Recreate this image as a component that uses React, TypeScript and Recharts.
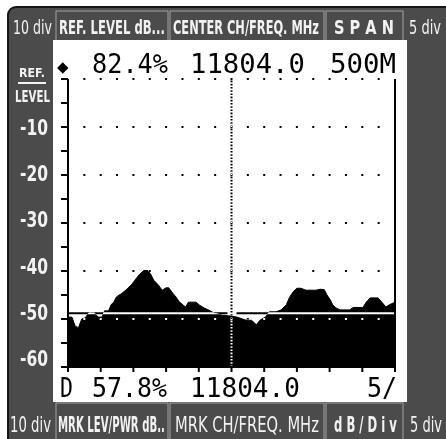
import React, { useLayoutEffect, useRef, useState } from "react";
import {
  ComposedChart,
  Area,
  XAxis,
  YAxis,
  ReferenceLine,
  CartesianGrid,
} from "recharts";

// spectrum trace
const freqMHz = [
  11554, 11560, 11565, 11570, 11575, 11580, 11586, 11594, 11600, 11606,
  11610, 11616, 11620, 11624, 11628, 11636, 11644, 11652, 11658, 11664,
  11670, 11676, 11681, 11685, 11692, 11698, 11704, 11708, 11714, 11719,
  11724, 11730, 11734, 11738, 11750, 11755, 11762, 11770, 11778, 11790,
  11803, 11812, 11825, 11835, 11842, 11848, 11856, 11862, 11872, 11880,
  11888, 11893, 11898, 11904, 11910, 11918, 11933, 11940, 11946, 11950,
  11955, 11959, 11964, 11970, 11985, 11990, 12005, 12010, 12016, 12028,
  12034, 12040, 12046, 12054,
];
const levelDb = [
  -49.6, -49.6, -51.5, -51.8, -50.0, -49.8, -48.7, -48.7, -49.6, -49.6,
  -48.3, -48.3, -47.0, -46.5, -45.4, -44.7, -43.8, -42.7, -41.6, -40.6,
  -39.9, -39.9, -40.8, -41.9, -42.9, -44.0, -43.5, -43.5, -44.6, -45.4,
  -46.4, -47.1, -47.5, -46.5, -46.5, -47.1, -47.7, -48.2, -48.8, -49.2,
  -49.4, -49.6, -50.2, -50.3, -51.2, -50.2, -49.6, -48.5, -48.5, -48.1,
  -47.0, -45.4, -44.4, -43.6, -43.6, -44.0, -44.0, -43.8, -43.9, -45.0,
  -46.0, -47.1, -47.7, -48.1, -48.1, -47.6, -47.6, -46.5, -45.6, -45.6,
  -46.5, -47.5, -47.0, -46.5,
];
const markerDb = -48.8;
const centerMHz = 11804;

const freqTicks = [11554, 11604, 11654, 11704, 11754, 11804, 11854, 11904, 11954, 12004, 12054];
const leftTicks = [0, -5, -10, -15, -20, -25, -30, -35, -40, -45, -50, -55, -60];
const rightTicks = [0, -2.5, -5, -7.5, -10, -12.5, -15, -17.5, -20, -22.5, -25, -27.5, -30];
const gridDb = [0, -10, -20, -30, -40, -50];

const headerLabels = ["10 div", "REF. LEVEL dB...", "CENTER CH/FREQ. MHz", "S P A N", "5 div"];
const footerLabels = ["10 div", "MRK LEV/PWR dB..", "MRK CH/FREQ. MHz", "d B / D i v", "5 div"];
const topReadout = ["82.4%", "11804.0", "500M"];
const bottomReadout = ["D", "57.8%", "11804.0", "5/"];

const data = freqMHz.map((f, i) => ({ f, db: levelDb[i] }));

const W = 446;
const H = 439;
const GRAY = "#4b4b4b";
const EDGE = "#a3a3a3";
const LIGHT = "#f2f2f2";
const NARROW = "'Liberation Sans Narrow', 'DejaVu Sans Condensed', sans-serif";
const MONO = "'DejaVu Sans Mono', monospace";

const xor: React.CSSProperties = { mixBlendMode: "difference" };

// text squeezed (or stretched) to a given width
const FitText = (p: {
  x: number;
  y: number;
  w: number;
  size: number;
  fill?: string;
  family?: string;
  weight?: string | number;
  children: string;
}) => {
  const ref = useRef<SVGTextElement>(null);
  const [s, setS] = useState(1);
  useLayoutEffect(() => {
    if (ref.current) {
      const n = ref.current.getComputedTextLength();
      if (n > 0) setS(p.w / n);
    }
  }, [p.w, p.children, p.size]);
  return (
    <text
      ref={ref}
      transform={`translate(${p.x},${p.y}) scale(${s},1)`}
      fontSize={p.size}
      fill={p.fill ?? LIGHT}
      fontFamily={p.family ?? NARROW}
      fontWeight={p.weight ?? "bold"}
    >
      {p.children}
    </text>
  );
};

const DotRow = (p: any) => (
  <line
    x1={p.x1 + 15.35}
    y1={p.y1}
    x2={p.x2 - 3}
    y2={p.y2}
    stroke="#fff"
    strokeWidth={2}
    strokeDasharray="2 14.35"
    style={xor}
  />
);

const CenterLine = (p: any) => (
  <line x1={p.x1} y1={p.y1} x2={p.x2} y2={p.y2} stroke="#fff" strokeWidth={2} strokeDasharray="1.6 1.6" style={xor} />
);

const MarkerLine = (p: any) => {
  const mid = (p.x1 + p.x2) / 2;
  return (
    <g style={xor}>
      <line x1={p.x1} y1={p.y1} x2={mid - 4} y2={p.y2} stroke="#fff" strokeWidth={2} />
      <line x1={mid + 5} y1={p.y1} x2={p.x2} y2={p.y2} stroke="#fff" strokeWidth={2} />
    </g>
  );
};

const RefLevel = ({ cx }: { cx: number }) => (
  <g>
    <FitText x={cx - 13} y={77} w={26} size={13}>REF.</FitText>
    <line x1={cx - 14} y1={83} x2={cx + 14} y2={83} stroke={LIGHT} strokeWidth={2} />
    <FitText x={cx - 17} y={102} w={35} size={15}>LEVEL</FitText>
  </g>
);

const LeftTick = (p: any) => {
  const { x, y, payload } = p;
  const v = payload.value;
  const major = v % 10 === 0;
  const drift = -(Math.abs(v) / 10 - 1) * 1.8;
  return (
    <g>
      <line x1={x - 7} y1={y} x2={x} y2={y} stroke="#000" strokeWidth={2} />
      {major && v === 0 && <RefLevel cx={32} />}
      {major && v !== 0 && (
        <FitText x={20} y={y + 8 + drift} w={28} size={21}>{String(v)}</FitText>
      )}
    </g>
  );
};

const RightTick = (p: any) => {
  const { x, y, payload } = p;
  const v = payload.value;
  const major = v % 5 === 0;
  const drift = -(Math.abs(v) / 5 - 1) * 1.8;
  return (
    <g>
      <line x1={x - 3} y1={y} x2={x + 8} y2={y} stroke="#000" strokeWidth={2} />
      {major && v === 0 && <RefLevel cx={425} />}
      {major && v !== 0 && (
        <FitText x={410} y={y + 8 + drift} w={String(v).length > 2 ? 30 : 22} size={21}>
          {String(v)}
        </FitText>
      )}
    </g>
  );
};

const cells = [
  { x: 56, w: 112 },
  { x: 170, w: 154 },
  { x: 326, w: 77 },
];

const Frame = () => (
  <svg width={W} height={H} style={{ position: "absolute", left: 0, top: 0 }}>
    <rect x={0} y={0} width={W} height={H} fill="#fff" />
    <rect x={8} y={7} width={W} height={H} rx={8} fill={GRAY} stroke="#151515" strokeWidth={2} />
    {cells.map((c) => (
      <rect key={"h" + c.x} x={c.x} y={11} width={c.w} height={32} fill={GRAY} stroke={EDGE} strokeWidth={1} />
    ))}
    {cells.map((c) => (
      <rect key={"f" + c.x} x={c.x} y={403} width={c.w} height={40} fill={GRAY} stroke={EDGE} strokeWidth={1} />
    ))}
    <rect x={53} y={40} width={354} height={362} fill="#fff" />

    <FitText x={13} y={34} w={39} size={20} weight="normal">{headerLabels[0]}</FitText>
    <FitText x={59} y={34} w={106} size={20}>{headerLabels[1]}</FitText>
    <FitText x={173} y={34} w={146} size={20}>{headerLabels[2]}</FitText>
    <FitText x={334} y={34} w={60} size={20}>{headerLabels[3]}</FitText>
    <FitText x={409} y={34} w={32} size={20} weight="normal">{headerLabels[4]}</FitText>

    <FitText x={10} y={432} w={41} size={21} weight="normal">{footerLabels[0]}</FitText>
    <FitText x={58} y={432} w={107} size={21}>{footerLabels[1]}</FitText>
    <FitText x={175} y={432} w={144} size={21} weight="normal">{footerLabels[2]}</FitText>
    <FitText x={334} y={432} w={63} size={21}>{footerLabels[3]}</FitText>
    <FitText x={410} y={432} w={32} size={21} weight="normal">{footerLabels[4]}</FitText>

    <text x={57} y={72} fontSize={15} fontFamily="'DejaVu Sans', sans-serif" fill="#000">◆</text>
    <FitText x={92} y={73} w={76} size={26} family={MONO} weight="normal" fill="#000">{topReadout[0]}</FitText>
    <FitText x={190} y={73} w={115} size={26} family={MONO} weight="normal" fill="#000">{topReadout[1]}</FitText>
    <FitText x={330} y={73} w={66} size={26} family={MONO} weight="normal" fill="#000">{topReadout[2]}</FitText>

    <FitText x={60} y={397} w={13} size={26} family={MONO} weight="normal" fill="#000">{bottomReadout[0]}</FitText>
    <FitText x={92} y={397} w={75} size={26} family={MONO} weight="normal" fill="#000">{bottomReadout[1]}</FitText>
    <FitText x={190} y={397} w={110} size={26} family={MONO} weight="normal" fill="#000">{bottomReadout[2]}</FitText>
    <FitText x={367} y={397} w={30} size={26} family={MONO} weight="normal" fill="#000">{bottomReadout[3]}</FitText>
  </svg>
);

export default function App() {
  return (
    <div style={{ position: "fixed", left: 0, top: 0, width: W, height: H, background: "#fff" }}>
      <Frame />
      <div style={{ position: "absolute", left: 0, top: 0 }}>
        <ComposedChart width={W} height={H} data={data} margin={{ top: 79, right: 0, bottom: 42, left: 8 }}>
          <CartesianGrid horizontal={false} vertical={false} fill="#fff" />
          <XAxis
            dataKey="f"
            type="number"
            domain={[11554, 12054]}
            ticks={freqTicks}
            tickFormatter={() => ""}
            tickSize={5}
            height={30}
            axisLine={{ stroke: "#000", strokeWidth: 2 }}
            tickLine={{ stroke: "#000", strokeWidth: 2 }}
          />
          <YAxis
            yAxisId="l"
            domain={[-60, 0]}
            ticks={leftTicks}
            width={60}
            tickSize={0}
            tickMargin={0}
            tickLine={false}
            tick={LeftTick}
            interval={0}
            axisLine={{ stroke: "#000", strokeWidth: 2 }}
          />
          <YAxis
            yAxisId="r"
            orientation="right"
            domain={[-30, 0]}
            ticks={rightTicks}
            width={51}
            tickSize={0}
            tickMargin={0}
            tickLine={false}
            tick={RightTick}
            interval={0}
            axisLine={{ stroke: "#000", strokeWidth: 2 }}
          />
          <Area
            yAxisId="l"
            dataKey="db"
            type="linear"
            baseValue={-60}
            fill="#000"
            fillOpacity={1}
            stroke="#000"
            strokeWidth={1}
            dot={false}
            activeDot={false}
            isAnimationActive={false}
          />
          {gridDb.map((g) => (
            <ReferenceLine key={g} yAxisId="l" y={g} shape={DotRow} />
          ))}
          <ReferenceLine yAxisId="l" x={centerMHz} shape={CenterLine} />
          <ReferenceLine yAxisId="l" y={markerDb} shape={MarkerLine} />
        </ComposedChart>
      </div>
    </div>
  );
}
